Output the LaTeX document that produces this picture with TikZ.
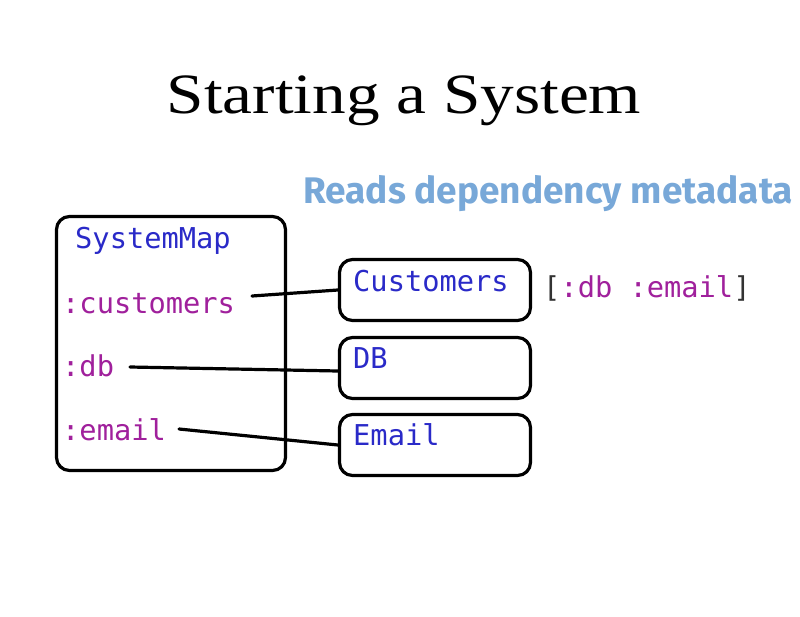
\documentclass[tikz,border=0pt]{standalone}
\usepackage{fontspec}
\setmonofont{DejaVu Sans Mono}
\setmainfont{Liberation Serif}
\newfontfamily\headfont{Fira Sans}
\definecolor{kwblue}{HTML}{2A2AC8}
\definecolor{kwmag}{HTML}{A0209C}
\definecolor{noteblue}{HTML}{78A8D8}
\definecolor{brk}{HTML}{333333}
\tikzset{
  sbox/.style={draw=black, line width=3.2pt, rounded corners=13pt, inner sep=0pt},
  mono/.style={font=\fontsize{28.7}{30}\selectfont\ttfamily, inner sep=0pt, anchor=base west},
  conn/.style={draw=black, line width=3.2pt, line cap=round},
}
\begin{document}
\begin{tikzpicture}[x=1pt,y=-1pt]
\useasboundingbox[fill=white] (0,0) rectangle (800,616);
\node[font=\fontsize{57}{60}\selectfont, anchor=base, inner sep=0pt] (title) at (404,113) {\scalebox{1.18}[1]{Starting a System}};
\node[font=\headfont\bfseries\fontsize{37}{40}\selectfont, text=noteblue, anchor=base west, inner sep=0pt] (note) at (303,203) {Reads dependency metadata};
% boxes
\node[sbox, minimum width=229pt, minimum height=254pt] (sysbox) at (171,343.5) {};
\node[sbox, minimum width=191pt, minimum height=61pt] (custbox) at (435,290) {};
\node[sbox, minimum width=191pt, minimum height=61pt] (dbbox) at (435,368) {};
\node[sbox, minimum width=191pt, minimum height=61pt] (emailbox) at (435,445) {};
% texts
\node[mono, text=kwblue] (sysmap) at (75,248) {SystemMap};
\node[mono, text=kwmag] (kcust) at (62,313) {:customers};
\node[mono, text=kwmag] (kdb) at (62,376) {:db};
\node[mono, text=kwmag] (kemail) at (62,440) {:email};
\node[mono, text=kwblue] (tcust) at (353,291) {Customers};
\node[mono, text=kwblue] (tdb) at (353,368) {DB};
\node[mono, text=kwblue] (temail) at (353,445) {Email};
\node[mono, text=kwmag] (deps) at (543,297) {\textcolor{brk}{[}:db :email\textcolor{brk}{]}};
% connectors
\coordinate (s1) at (252,296);
\coordinate (s2) at (130,367);
\coordinate (s3) at (179,429);
\draw[conn] (s1) -- (custbox.west);
\draw[conn] (s2) -- ([yshift=-3pt]dbbox.west);
\draw[conn] (s3) -- (emailbox.west);
\end{tikzpicture}
\end{document}
